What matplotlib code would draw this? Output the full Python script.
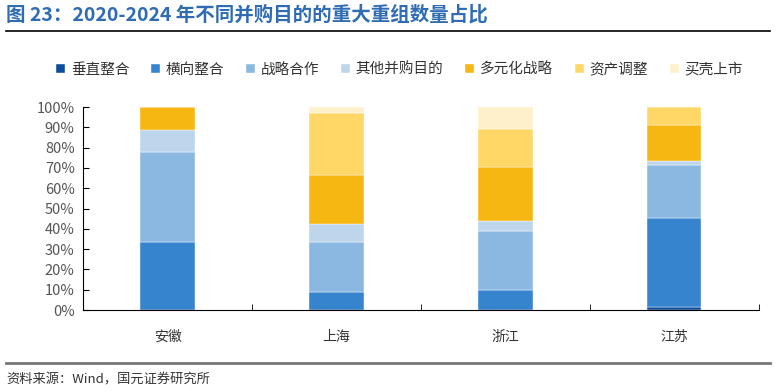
import numpy as np
import matplotlib.pyplot as plt
from matplotlib.ticker import PercentFormatter
from matplotlib.lines import Line2D

plt.rcParams['font.family'] = ['Noto Sans CJK SC', 'DejaVu Sans']

# 数据（占比，%）
provinces = ['安徽', '上海', '浙江', '江苏']
series_names = ['垂直整合', '横向整合', '战略合作', '其他并购目的', '多元化战略', '资产调整', '买壳上市']
vertical = [0.0, 0.0, 0.0, 1.6]
horizontal = [33.3, 9.1, 10.0, 43.6]
strategic = [44.4, 24.2, 29.0, 26.0]
other = [11.1, 9.1, 5.0, 2.2]
diversify = [11.2, 24.2, 26.5, 17.5]
asset_adj = [0.0, 30.3, 18.5, 9.1]
backdoor = [0.0, 3.1, 11.0, 0.0]

colors = ['#0d4c9c', '#3684cd', '#8ab8e0', '#bdd6ec', '#f7b712', '#fed766', '#fff0cc']
series = [vertical, horizontal, strategic, other, diversify, asset_adj, backdoor]

fig = plt.figure(figsize=(7.76, 3.92), dpi=100)
ax = fig.add_axes([0.107, 0.209, 0.871, 0.518])

x = np.arange(len(provinces))
bottom = np.zeros(len(provinces))
for name, vals, c in zip(series_names, series, colors):
    vals = np.array(vals) / 100
    ax.bar(x, vals, width=0.32, bottom=bottom, color=c, label=name,
           edgecolor='white', linewidth=0.3)
    bottom += vals

ax.set_xlim(-0.5, len(provinces) - 0.5)
ax.set_ylim(0, 1)
ax.set_yticks(np.arange(0, 1.01, 0.1))
ax.yaxis.set_major_formatter(PercentFormatter(1.0, decimals=0))
ax.set_xticks(x)
ax.set_xticklabels(provinces)
ax.set_xticks(np.arange(-0.5, len(provinces), 1), minor=True)
ax.tick_params(axis='x', which='major', length=0, pad=14, labelsize=10, colors='#555555')
ax.tick_params(axis='x', which='minor', length=4, direction='in', color='black')
ax.tick_params(axis='y', length=4, direction='in', labelsize=10.5, colors='#555555',
               color='black', pad=6)
for t in ax.get_xticklabels():
    t.set_color('#333333')
for s in ['top', 'right']:
    ax.spines[s].set_visible(False)
ax.spines['left'].set_color('black')
ax.spines['bottom'].set_color('black')

leg = fig.legend(loc='center', bbox_to_anchor=(0.515, 0.822), ncol=7, frameon=False,
                 fontsize=10.5, handlelength=0.6, handleheight=0.6, handletextpad=0.4,
                 columnspacing=1.5)
for t in leg.get_texts():
    t.set_color('#333333')

fig.text(0.008, 0.962, '图 23：2020-2024 年不同并购目的的重大重组数量占比', fontsize=14,
         fontweight='bold', color='#2f6cb4', va='center')
fig.add_artist(Line2D([0.008, 0.992], [0.922, 0.922], color='black', lw=1.2))
fig.add_artist(Line2D([0.008, 0.992], [0.074, 0.074], color='#777777', lw=2))
fig.text(0.008, 0.03, '资料来源：Wind，国元证券研究所', fontsize=9.5, color='#333333', va='center')

fig.savefig('out.png', dpi=100)
